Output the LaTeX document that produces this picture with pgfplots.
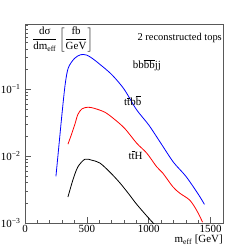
\documentclass[border=0pt]{standalone}
\usepackage{pgfplots}
\pgfplotsset{compat=1.18}
\usepackage{fontspec}
\setmainfont{Liberation Serif}
\newcommand\ob[1]{$\overline{\mbox{#1}}$}
\begin{document}
\begin{tikzpicture}
\begin{axis}[name=ax, width=198bp, height=199bp, scale only axis,
  xmin=0, xmax=1600, ymode=log, ymin=0.001, ymax=0.95,
  xtick={0,500,1000,1500}, minor x tick num=4,
  ytick={0.001,0.01,0.1},
  yticklabels={10\textsuperscript{−3},10\textsuperscript{−2},10\textsuperscript{−1}},
  minor ytick={0.002,0.003,0.004,0.005,0.006,0.007,0.008,0.009,0.02,0.03,0.04,0.05,0.06,0.07,0.08,0.09,0.2,0.3,0.4,0.5,0.6,0.7,0.8,0.9},
  tick align=inside, xtick pos=bottom, ytick pos=left,
  major tick length=6bp, minor tick length=3bp,
  axis line style={black!65, line width=0.9bp},
  every tick/.style={black!65, line width=0.7bp},
  /pgf/number format/assume math mode=true,
  /pgf/number format/1000 sep={},
  tick label style={font=\fontsize{11}{13}\selectfont},
  xticklabel style={yshift=1bp},
  yticklabel style={xshift=-1bp},
]
\addplot[blue, line width=0.8bp, smooth] coordinates {
(250,0.0050) (275,0.015) (300,0.045) (325,0.12) (350,0.21) (400,0.29) (450,0.33) (500,0.325) (550,0.285) (600,0.241) (700,0.167) (800,0.101) (900,0.050) (1000,0.0293) (1100,0.0154) (1200,0.0081) (1300,0.0050) (1400,0.0027) (1450,0.0019)
};
\addplot[red, line width=0.8bp, smooth] coordinates {
(347,0.0151) (375,0.021) (403,0.030) (427,0.0420) (460,0.051) (508,0.054) (560,0.052) (645,0.0455) (720,0.036) (806,0.026) (903,0.0156) (984,0.0111) (1065,0.0069) (1113,0.0056) (1194,0.0035) (1250,0.0028) (1331,0.0022) (1387,0.00155) (1435,0.00103)
};
\addplot[black, line width=0.8bp, smooth] coordinates {
(347,0.00245) (387,0.0044) (427,0.0069) (484,0.0090) (540,0.0087) (605,0.0079) (685,0.0058) (766,0.0040) (847,0.0026) (903,0.0019) (1000,0.00118) (1040,0.00098) (1100,0.00075)
};
\node[anchor=west, inner sep=0, font=\fontsize{11}{13}\selectfont] at (axis cs:870,0.23) {bb\ob{b}\ob{b}jj};
\node[anchor=west, inner sep=0, font=\fontsize{11}{13}\selectfont] at (axis cs:800,0.068) {t\ob{t}b\ob{b}};
\node[anchor=west, inner sep=0, font=\fontsize{11}{13}\selectfont] at (axis cs:835,0.0104) {t\ob{t}H};
\end{axis}
\node[anchor=east, inner sep=0, font=\fontsize{10.5}{13}\selectfont] at ([shift={(-1bp,-14bp)}]ax.north east) {2 reconstructed tops};
\node[anchor=north west, inner sep=0, font=\fontsize{11}{13}\selectfont] at ([shift={(7bp,-3bp)}]ax.north west) {$\displaystyle\frac{\mbox{dσ}}{\mbox{dm\textsubscript{eff}}}\left[\frac{\mbox{fb}}{\mbox{GeV}}\right]$};
\node[anchor=north east, inner sep=0, font=\fontsize{11}{13}\selectfont] at ([shift={(0bp,-12bp)}]ax.south east) {m\textsubscript{eff} [GeV]};
\pgfresetboundingbox
\path[use as bounding box] ([shift={(-25bp,-26bp)}]ax.south west) rectangle ([shift={(25bp,24bp)}]ax.north east);
\end{tikzpicture}
\end{document}
